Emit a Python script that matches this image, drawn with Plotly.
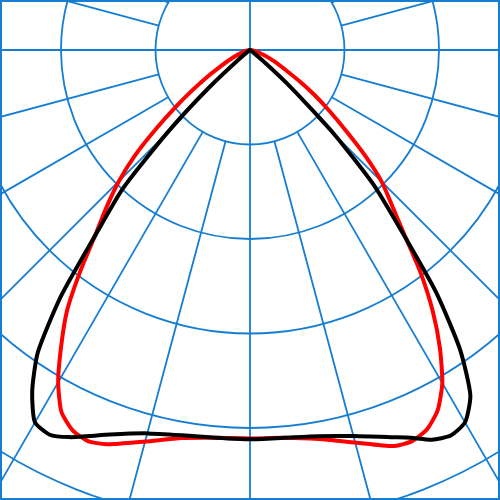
import numpy as np
import plotly.graph_objects as go

# gamma angles (deg from nadir) and intensities
angles = [0, 5, 10, 15, 20, 22.5, 25, 27.5, 30, 32.5, 35, 37.5, 40, 42.5,
          45, 47.5, 50, 52.5, 55, 57.5, 60, 65, 70, 80, 90]

red_left = [411, 412, 417, 429, 444, 448, 444, 432, 406, 372, 338, 295, 254, 224,
            196, 165, 130, 100, 75, 56, 40, 22, 12, 4, 0]
red_right = [411, 412, 418, 430, 446, 448, 443, 430, 407, 374, 337, 296, 253, 222,
             197, 165, 132, 106, 84, 64, 47, 28, 16, 5, 0]
black_left = [412, 412, 414, 420, 433, 442, 452, 459, 455, 429, 392, 329, 252, 200,
              124, 58, 16, 5, 2, 1, 0, 0, 0, 0, 0]
black_right = [412, 412, 415, 423, 436, 444, 455, 460, 455, 434, 388, 324, 248, 194,
               126, 60, 17, 5, 2, 1, 0, 0, 0, 0, 0]

circles = [100, 200, 300, 400, 500]
spoke_angles = [15, 30, 45, 60, 75, 105, 120, 135, 150, 165]

BLUE = "#157dd2"


def to_xy(left, right):
    a_l = np.radians(angles[::-1])
    r_l = np.array(left[::-1], dtype=float)
    a_r = np.radians(angles[1:])
    r_r = np.array(right[1:], dtype=float)
    x = np.concatenate([-r_l * np.sin(a_l), r_r * np.sin(a_r)])
    y = np.concatenate([-r_l * np.cos(a_l), -r_r * np.cos(a_r)])
    return x, y


fig = go.Figure()

shapes = []
for r in circles:
    shapes.append(dict(type="circle", xref="x", yref="y", x0=-r, y0=-r, x1=r, y1=r,
                       line=dict(color=BLUE, width=1.8), layer="below"))
# full vertical / horizontal axes through the centre
shapes.append(dict(type="line", xref="x", yref="y", x0=0, y0=100, x1=0, y1=-700,
                   line=dict(color=BLUE, width=1.8), layer="below"))
shapes.append(dict(type="line", xref="x", yref="y", x0=-700, y0=0, x1=700, y1=0,
                   line=dict(color=BLUE, width=1.8), layer="below"))
for a in spoke_angles:
    t = np.radians(a)
    for s in (-1, 1):
        shapes.append(dict(type="line", xref="x", yref="y",
                           x0=s * 100 * np.sin(t), y0=-100 * np.cos(t),
                           x1=s * 800 * np.sin(t), y1=-800 * np.cos(t),
                           line=dict(color=BLUE, width=1.8), layer="below"))
# frame
shapes.append(dict(type="rect", xref="paper", yref="paper", x0=0, y0=0, x1=1, y1=1,
                   line=dict(color=BLUE, width=4)))

xr, yr = to_xy(red_left, red_right)
fig.add_trace(go.Scatter(x=xr, y=yr, mode="lines",
                         line=dict(color="#ff0000", width=4, shape="spline", smoothing=0.6)))
xb, yb = to_xy(black_left, black_right)
fig.add_trace(go.Scatter(x=xb, y=yb, mode="lines",
                         line=dict(color="#000000", width=4, shape="spline", smoothing=0.6)))

scale = 100 / 94.5
fig.update_layout(
    width=500, height=500,
    margin=dict(l=0, r=0, t=0, b=0),
    paper_bgcolor="white", plot_bgcolor="white",
    showlegend=False,
    shapes=shapes,
    xaxis=dict(range=[-250 * scale, 250 * scale], visible=False, fixedrange=True),
    yaxis=dict(range=[-450 * scale, 50 * scale], visible=False, fixedrange=True),
)

fig.write_html("out.html", config={"displayModeBar": False},
               post_script="document.body.style.margin='0';")
